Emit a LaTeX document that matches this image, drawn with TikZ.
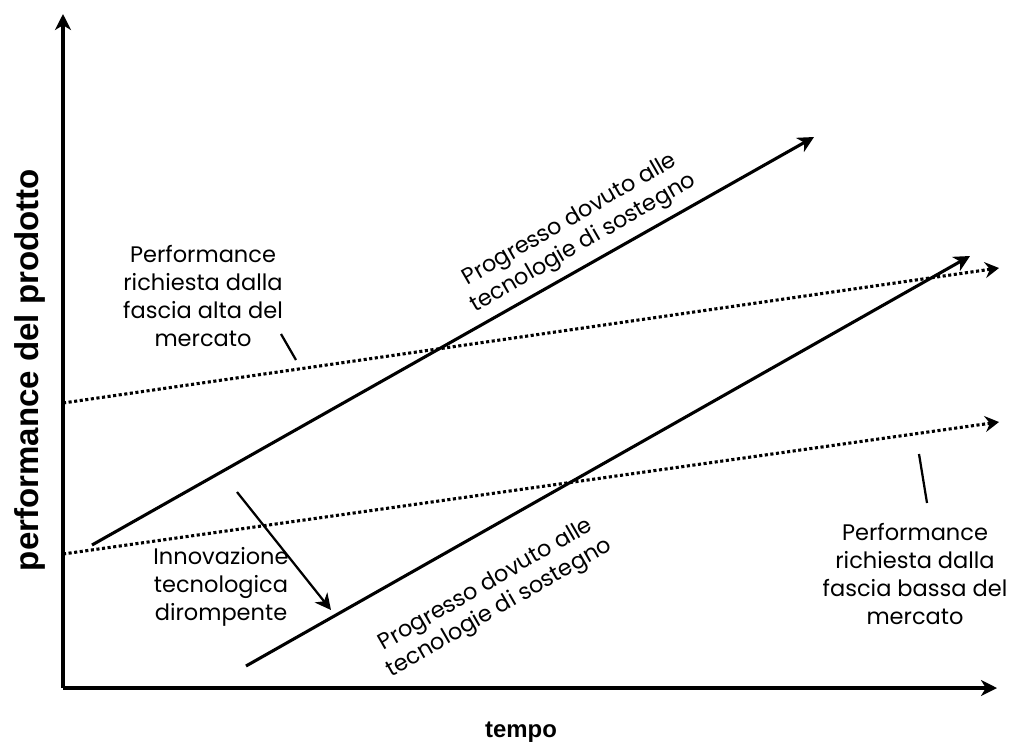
\documentclass[tikz,border=0pt]{standalone}
\usepackage{fontspec}
\setmainfont{Poppins}
\newfontfamily\axisfont{Liberation Sans}
\usetikzlibrary{arrows.meta}
\begin{document}
\begin{tikzpicture}[x=0.025cm,y=-0.025cm]
	\tikzstyle{Axis} = [line width=2.2pt, -{Stealth[length=4mm,width=4mm,inset=1.2mm]}]
	\tikzstyle{Trend} = [line width=2.2pt, -{Stealth[length=4mm,width=4mm,inset=1.2mm]}]
	\tikzstyle{Demand} = [line width=2.2pt, dash pattern=on 2.2pt off 1.8pt, -{Stealth[length=3.5mm,width=4mm,inset=1.2mm]}]
	\tikzstyle{Pointer} = [line width=1.6pt]
	\tikzstyle{Label} = [align=center, inner sep=0pt, font=\fontsize{16}{19.8}\selectfont]
	\tikzstyle{Slanted} = [align=center, inner sep=0pt, rotate=30, font=\fontsize{16}{19}\selectfont]
	\tikzstyle{Title} = [inner sep=0pt, font=\axisfont\bfseries]
	\useasboundingbox (0,0) rectangle (1010,751);

	% axes
	\coordinate (origin) at (63,688);
	\coordinate (ytop) at (63,14);
	\coordinate (xend) at (997,688);
	\draw [Axis] (origin) -- (ytop);
	\draw [Axis] (origin) -- (xend);
	\node (ylabel) [Title, rotate=90, font=\axisfont\bfseries\fontsize{23.5}{26}\selectfont] at (30,370) {performance del prodotto};
	\node (xlabel) [Title, font=\axisfont\bfseries\fontsize{17}{19}\selectfont] at (521,732) {tempo};

	% market demand (dotted)
	\coordinate (highA) at (63,403);
	\coordinate (highB) at (999,268);
	\coordinate (lowA) at (63,554);
	\coordinate (lowB) at (999,422);
	\draw [Demand] (highA) -- (highB);
	\draw [Demand] (lowA) -- (lowB);

	% sustaining technology progress
	\coordinate (upA) at (92,545);
	\coordinate (upB) at (814,137);
	\coordinate (downA) at (246,666);
	\coordinate (downB) at (970,256);
	\draw [Trend] (upA) -- (upB);
	\draw [Trend] (downA) -- (downB);
	\node (upText) [Slanted] at (577,232) {Progresso dovuto alle\\tecnologie di sostegno};
	\node (downText) [Slanted] at (493,597) {Progresso dovuto alle\\tecnologie di sostegno};

	% labels
	\node (highText) [Label] at (203,296) {Performance\\richiesta dalla\\fascia alta del\\mercato};
	\node (lowText) [Label] at (915,574) {Performance\\richiesta dalla\\fascia bassa del\\mercato};
	\node (disrText) [Label] at (221,587) {Innovazione\\tecnologica\\dirompente};
	\coordinate (highFoot) at (281,334);
	\coordinate (highTip) at (296,360);
	\coordinate (lowFoot) at (927,503);
	\coordinate (lowTip) at (919,454);
	\draw [Pointer] (highFoot) -- (highTip);
	\draw [Pointer] (lowFoot) -- (lowTip);

	% disruption
	\coordinate (jumpA) at (237,492);
	\coordinate (jumpB) at (331,610);
	\draw [Trend, line width=1.6pt] (jumpA) -- (jumpB);
\end{tikzpicture}
\end{document}
